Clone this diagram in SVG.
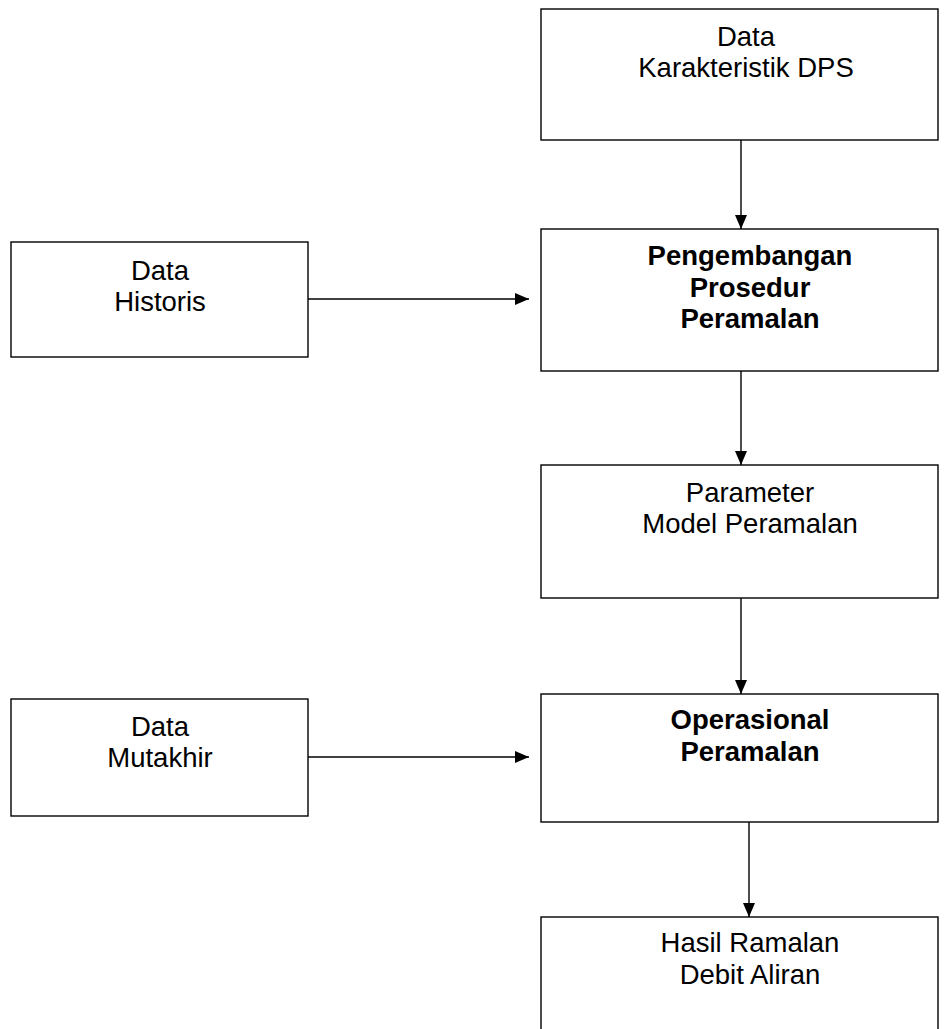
<svg xmlns="http://www.w3.org/2000/svg" width="949" height="1029" viewBox="0 0 949 1029">
<defs>
<style>
.box{fill:#fff;stroke:#000;stroke-width:1.4}
.t{font-family:"Liberation Sans",Arial,sans-serif;font-size:27.5px;fill:#000;text-anchor:middle}
.b{font-weight:bold}
.c{stroke:#000;stroke-width:1.4;fill:none;marker-end:url(#ah)}
</style>
<marker id="ah" viewBox="0 0 14 12" refX="14" refY="6" markerWidth="14" markerHeight="12" markerUnits="userSpaceOnUse" orient="auto">
<path d="M0,0 L14,6 L0,12 Z" fill="#000"/>
</marker>
</defs>
<rect width="949" height="1029" fill="#fff"/>
<g id="connectors">
<line class="c" x1="741" y1="140" x2="741" y2="229"/>
<line class="c" x1="308" y1="299" x2="529" y2="299"/>
<line class="c" x1="741" y1="371" x2="741" y2="465"/>
<line class="c" x1="741" y1="598" x2="741" y2="694"/>
<line class="c" x1="308" y1="757" x2="529" y2="757"/>
<line class="c" x1="749" y1="822" x2="749" y2="917"/>
</g>
<g id="n1">
<rect class="box" x="541" y="9" width="397" height="131"/>
<text class="t" x="746" y="46">Data</text>
<text class="t" x="746" y="77">Karakteristik DPS</text>
</g>
<g id="n2">
<rect class="box" x="11" y="242" width="297" height="115"/>
<text class="t" x="160" y="280">Data</text>
<text class="t" x="160" y="311">Historis</text>
</g>
<g id="n3">
<rect class="box" x="541" y="229" width="397" height="142"/>
<text class="t b" x="750" y="265">Pengembangan</text>
<text class="t b" x="750" y="297">Prosedur</text>
<text class="t b" x="750" y="328">Peramalan</text>
</g>
<g id="n4">
<rect class="box" x="541" y="465" width="397" height="133"/>
<text class="t" x="750" y="502">Parameter</text>
<text class="t" x="750" y="533">Model Peramalan</text>
</g>
<g id="n5">
<rect class="box" x="11" y="699" width="297" height="117"/>
<text class="t" x="160" y="736">Data</text>
<text class="t" x="160" y="767">Mutakhir</text>
</g>
<g id="n6">
<rect class="box" x="541" y="694" width="397" height="128"/>
<text class="t b" x="750" y="729">Operasional</text>
<text class="t b" x="750" y="761">Peramalan</text>
</g>
<g id="n7">
<rect class="box" x="541" y="917" width="397" height="130"/>
<text class="t" x="750" y="952">Hasil Ramalan</text>
<text class="t" x="750" y="984">Debit Aliran</text>
</g>
</svg>
